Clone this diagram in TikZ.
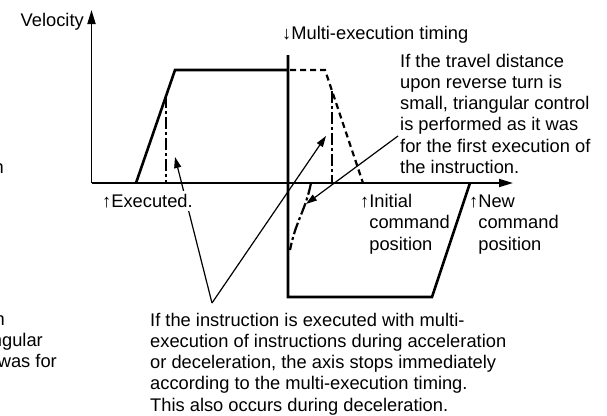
\documentclass[tikz,border=0pt]{standalone}
\usepackage{fontspec}
\setmainfont{Liberation Sans}
\usetikzlibrary{arrows.meta}
\begin{document}
\begin{tikzpicture}[x=1pt,y=-1pt,
  txt/.style={inner sep=0pt, font=\fontsize{18.3}{21.2}\selectfont},
  prof/.style={line width=2.6pt, line join=miter},
  axisline/.style={line width=1.8pt, -{Triangle[length=14pt,width=8pt]}},
  ptr/.style={line width=1.2pt, -{Triangle[length=11pt,width=7pt]}},
  dashdotline/.style={line width=2.2pt, dash pattern=on 12pt off 3pt on 3pt off 3pt},
  dashline/.style={line width=2.2pt, dash pattern=on 6pt off 4pt}]
\useasboundingbox (0,0) rectangle (607,415);
\clip (0,0) rectangle (607,415);
% axes
\coordinate (O) at (91.5,183);
\coordinate (ytip) at (91.5,10);
\coordinate (xtip) at (513,183);
\draw[axisline] (O) -- (ytip);
\draw[axisline] (O) -- (xtip);
% profile
\draw[prof] (136,183) -- (175,70) -- (288,70);
\draw[prof] (288,55) -- (288,297) -- (432,297) -- (470,183);
\draw[dashline] (290,70) -- (325,70) -- (363,183);
\draw[dashdotline] (166,96) -- (166,183);
\draw[dashdotline] (332,91) -- (332,183);
\draw[dashdotline] (311,183) .. controls (305,212) and (296,220) .. (290,250);
% pointers
\coordinate (apex) at (212,303);
\coordinate (t1) at (175,157);
\coordinate (t2) at (326,136);
\coordinate (s3) at (398,136);
\coordinate (t3) at (306,204);
\draw[ptr] (apex) -- (t1);
\draw[ptr] (apex) -- (t2);
\draw[ptr] (s3) -- (t3);
% texts
\node[txt, anchor=base east] (vel) at (84,26) {Velocity};
\node[txt, anchor=base west] (mt) at (282,39) {↓Multi-execution timing};
\node[txt, anchor=base west, align=left] (rev) at (400,173.3) {If the travel distance\\upon reverse turn is\\small, triangular control\\is performed as it was\\for the first execution of\\the instruction.};
\node[txt, anchor=base west, fill=white, inner xsep=1pt, inner ysep=3pt] (exe) at (101,207) {↑Executed.};
\node[txt, anchor=base west, align=left] (ini) at (360,250) {↑Initial\\\phantom{↑}command\\\phantom{↑}position};
\node[txt, anchor=base west, align=left] (new) at (469,250) {↑New\\\phantom{↑}command\\\phantom{↑}position};
\node[txt, anchor=base west, align=left] (note) at (150,411) {If the instruction is executed with multi-\\execution of instructions during acceleration\\or deceleration, the axis stops immediately\\according to the multi-execution timing.\\This also occurs during deceleration.};
% fragments cut at left edge
\node[txt, anchor=base east] (f1) at (4,173) {n};
\node[txt, anchor=base east] (f2) at (5,325) {n};
\node[txt, anchor=base east] (f3) at (43,346) {ngular};
\node[txt, anchor=base east] (f4) at (57,367) {was for};
\end{tikzpicture}
\end{document}
